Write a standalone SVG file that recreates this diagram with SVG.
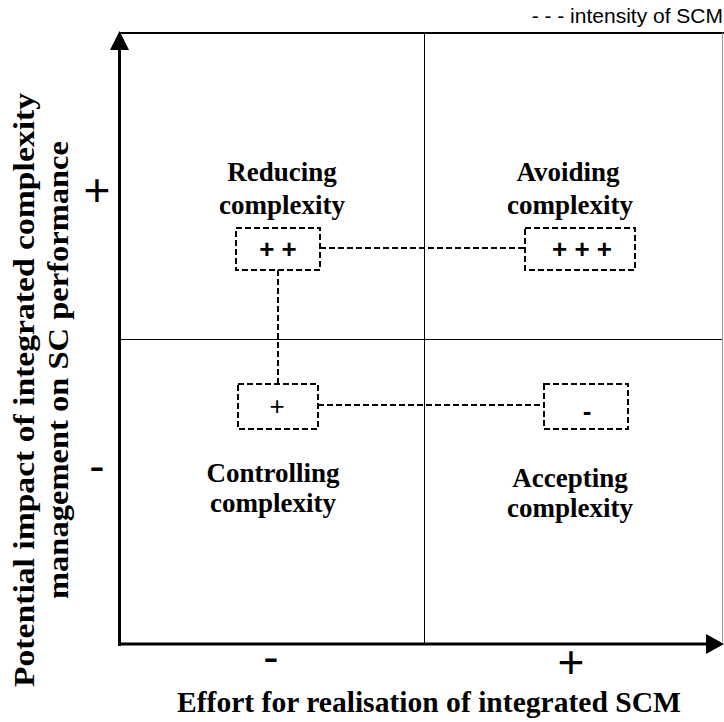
<svg xmlns="http://www.w3.org/2000/svg" width="724" height="722" viewBox="0 0 724 722">
  <style>
    .q { font-family: "Liberation Serif", "Times New Roman", serif; font-weight: bold; font-size: 27px; fill: #000; text-anchor: middle; }
    .ax { font-family: "Liberation Serif", "Times New Roman", serif; font-weight: bold; font-size: 30px; fill: #000; text-anchor: middle; }
    .sign { font-family: "Liberation Sans", Arial, sans-serif; font-size: 46px; fill: #000; text-anchor: middle; }
    .inbox { font-family: "Liberation Sans", Arial, sans-serif; font-weight: bold; font-size: 26px; fill: #000; text-anchor: middle; }
    .inbox1 { font-family: "Liberation Sans", Arial, sans-serif; font-size: 26px; fill: #000; text-anchor: middle; }
    .leg { font-family: "Liberation Sans", Arial, sans-serif; font-size: 21px; fill: #000; text-anchor: end; }
    .dash { fill: none; stroke: #000; stroke-width: 2; stroke-dasharray: 6 3; }
    .thin { stroke: #000; stroke-width: 1; fill: none; }
    .axis { stroke: #000; stroke-width: 3; fill: none; }
  </style>

  <!-- legend -->
  <g id="legend">
    <text class="leg" x="723" y="23">- - - intensity of SCM</text>
  </g>

  <!-- frame and axes -->
  <g id="frame">
    <line x1="120" y1="33" x2="724" y2="33" stroke="#000" stroke-width="2"/>
    <line x1="722.5" y1="33" x2="722.5" y2="642" stroke="#999" stroke-width="1"/>
    <line class="thin" x1="424.5" y1="33" x2="424.5" y2="644"/>
    <line class="thin" x1="119" y1="339.5" x2="722" y2="339.5"/>
  </g>
  <g id="y-axis">
    <line class="axis" x1="119.5" y1="646" x2="119.5" y2="46"/>
    <polygon points="119.5,31 110,50 129,50" fill="#000"/>
  </g>
  <g id="x-axis">
    <line class="axis" x1="118" y1="644" x2="708" y2="644"/>
    <polygon points="724,644 706,634 706,654" fill="#000"/>
  </g>

  <!-- axis labels -->
  <g id="y-label">
    <text class="ax" x="34" y="390" transform="rotate(-90 34 390)" textLength="594" lengthAdjust="spacingAndGlyphs">Potential impact of integrated complexity</text>
    <text class="ax" x="68" y="370" transform="rotate(-90 68 370)" textLength="458" lengthAdjust="spacingAndGlyphs">management on SC performance</text>
  </g>
  <g id="x-label">
    <text class="ax" x="429" y="712" font-size="28" textLength="504" lengthAdjust="spacingAndGlyphs">Effort for realisation of integrated SCM</text>
  </g>
  <g id="axis-signs">
    <text class="sign" x="97" y="206">+</text>
    <text class="sign" x="97" y="482">-</text>
    <text class="sign" x="271" y="673" font-size="42">-</text>
    <text class="sign" x="571" y="678" font-size="40">+</text>
  </g>

  <!-- quadrant labels -->
  <g id="reducing">
    <text class="q" x="282" y="181">Reducing</text>
    <text class="q" x="282" y="214">complexity</text>
  </g>
  <g id="avoiding">
    <text class="q" x="568" y="181">Avoiding</text>
    <text class="q" x="570" y="214">complexity</text>
  </g>
  <g id="controlling">
    <text class="q" x="273" y="482">Controlling</text>
    <text class="q" x="273" y="512">complexity</text>
  </g>
  <g id="accepting">
    <text class="q" x="570" y="487">Accepting</text>
    <text class="q" x="570" y="517">complexity</text>
  </g>

  <!-- intensity boxes -->
  <g id="box-pp">
    <rect class="dash" x="236" y="228" width="84" height="42"/>
    <text class="inbox" x="278" y="258">+ +</text>
  </g>
  <g id="box-ppp">
    <rect class="dash" x="525" y="228" width="110" height="42"/>
    <text class="inbox" x="582" y="258">+ + +</text>
  </g>
  <g id="box-p">
    <rect class="dash" x="238" y="384" width="80" height="45"/>
    <text class="inbox1" x="277" y="415">+</text>
  </g>
  <g id="box-m">
    <rect class="dash" x="544" y="384" width="84" height="45"/>
    <text class="inbox" x="587" y="420" font-size="32">-</text>
  </g>

  <!-- connectors -->
  <g id="connectors">
    <line class="dash" x1="320" y1="248" x2="525" y2="248"/>
    <line class="dash" x1="278" y1="270" x2="278" y2="384"/>
    <line class="dash" x1="318" y1="405" x2="544" y2="405"/>
  </g>
</svg>
